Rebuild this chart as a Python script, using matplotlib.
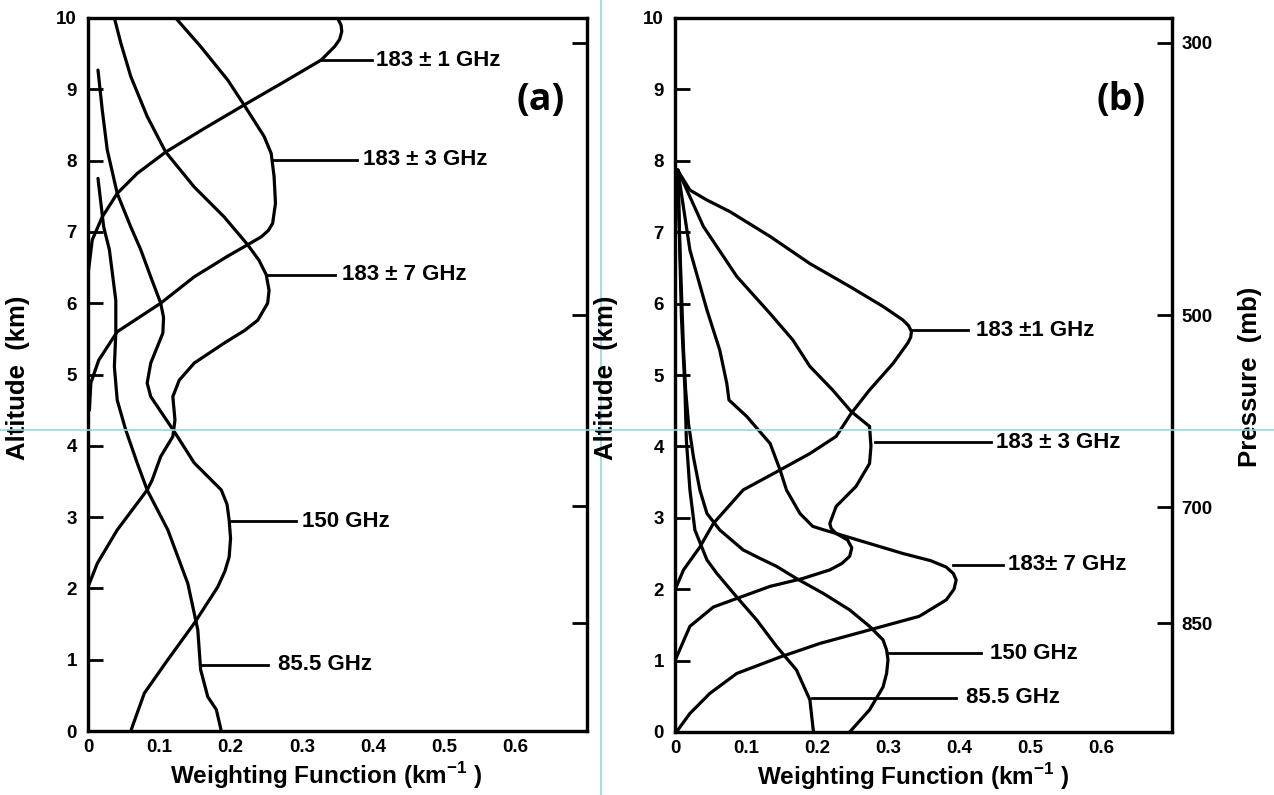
import matplotlib
matplotlib.use("Agg")
import matplotlib.pyplot as plt
from matplotlib.lines import Line2D

# ---------------- data ----------------
x_ticks = [0, 0.1, 0.2, 0.3, 0.4, 0.5, 0.6]
x_tick_labels = ["0", "0.1", "0.2", "0.3", "0.4", "0.5", "0.6"]
y_ticks = [0, 1, 2, 3, 4, 5, 6, 7, 8, 9, 10]
pressure_levels = ["300", "500", "700", "850"]
pressure_alt = [9.65, 5.84, 3.15, 1.52]

# Panel (a)
a_183p1_z = [6.4, 6.89, 7.21, 7.54, 7.82, 8.12, 8.45, 8.78, 9.11, 9.41, 9.6, 9.7, 9.81, 9.9, 10.0, 10.15]
a_183p1_w = [0.0, 0.006, 0.020, 0.041, 0.069, 0.109, 0.163, 0.219, 0.276, 0.327, 0.346, 0.353, 0.356, 0.355, 0.350, 0.335]

a_183p3_z = [4.5, 4.88, 5.2, 5.6, 6.0, 6.37, 6.66, 6.82, 6.93, 7.02, 7.12, 7.4, 7.78, 8.1, 8.34, 8.78, 9.13, 9.6, 10.0]
a_183p3_w = [0.002, 0.004, 0.015, 0.041, 0.102, 0.149, 0.196, 0.224, 0.243, 0.253, 0.259, 0.263, 0.261, 0.257, 0.247, 0.219, 0.196, 0.158, 0.123]

a_183p7_z = [2.02, 2.35, 2.82, 3.38, 3.52, 3.85, 4.13, 4.36, 4.69, 4.92, 5.16, 5.44, 5.62, 5.76, 6.0, 6.18, 6.40, 6.6, 6.82, 7.21, 7.63, 8.12, 8.62, 9.18, 9.65, 10.0]
a_183p7_w = [0.0, 0.013, 0.041, 0.083, 0.090, 0.102, 0.119, 0.122, 0.119, 0.128, 0.149, 0.191, 0.220, 0.238, 0.252, 0.254, 0.250, 0.240, 0.224, 0.191, 0.149, 0.109, 0.083, 0.060, 0.046, 0.037]

a_150_z = [0.0, 0.53, 1.0, 1.51, 2.02, 2.24, 2.44, 2.7, 2.96, 3.18, 3.38, 3.76, 4.2, 4.69, 4.88, 5.16, 5.58, 5.8, 6.0, 6.37, 6.75, 7.07, 7.54, 8.15, 8.71, 9.27]
a_150_w = [0.060, 0.079, 0.112, 0.149, 0.182, 0.192, 0.198, 0.200, 0.198, 0.195, 0.187, 0.149, 0.121, 0.088, 0.083, 0.088, 0.105, 0.106, 0.102, 0.088, 0.074, 0.060, 0.041, 0.027, 0.020, 0.014]

a_855_z = [0.0, 0.3, 0.48, 0.86, 1.42, 2.07, 2.82, 3.38, 3.76, 4.22, 4.64, 5.11, 5.58, 6.04, 6.75, 7.07, 7.75]
a_855_w = [0.187, 0.180, 0.168, 0.158, 0.154, 0.140, 0.112, 0.083, 0.069, 0.053, 0.041, 0.037, 0.039, 0.039, 0.030, 0.022, 0.014]

# Panel (b)
b_183p1_z = [7.87, 7.83, 7.59, 7.45, 7.29, 6.94, 6.56, 6.24, 5.96, 5.77, 5.69, 5.61, 5.53, 5.45, 5.16, 4.79, 4.46, 4.14, 3.90, 3.67, 3.39, 2.92, 2.59, 2.27, 1.99]
b_183p1_w = [0.004, 0.006, 0.021, 0.045, 0.077, 0.134, 0.190, 0.246, 0.293, 0.321, 0.329, 0.333, 0.332, 0.328, 0.307, 0.274, 0.248, 0.227, 0.190, 0.148, 0.096, 0.054, 0.035, 0.012, 0.0]

b_183p3_z = [7.87, 7.08, 6.38, 5.86, 5.49, 5.12, 4.79, 4.49, 4.28, 4.0, 3.76, 3.44, 3.16, 2.92, 2.85, 2.78, 2.69, 2.58, 2.46, 2.36, 2.27, 2.15, 2.04, 1.87, 1.75, 1.48, 1.0]
b_183p3_w = [0.004, 0.040, 0.087, 0.134, 0.166, 0.190, 0.222, 0.248, 0.274, 0.276, 0.274, 0.255, 0.227, 0.218, 0.220, 0.227, 0.243, 0.249, 0.246, 0.235, 0.218, 0.180, 0.134, 0.087, 0.054, 0.021, 0.0]

b_183p7_z = [7.87, 6.75, 5.91, 5.35, 4.88, 4.65, 4.42, 4.04, 3.67, 3.39, 3.06, 2.88, 2.83, 2.78, 2.64, 2.50, 2.40, 2.31, 2.22, 2.13, 2.0, 1.85, 1.62, 1.43, 1.24, 1.05, 0.82, 0.54, 0.26, 0.0]
b_183p7_w = [0.004, 0.021, 0.045, 0.063, 0.073, 0.076, 0.101, 0.134, 0.148, 0.157, 0.176, 0.194, 0.210, 0.227, 0.274, 0.321, 0.360, 0.382, 0.392, 0.396, 0.393, 0.382, 0.344, 0.274, 0.204, 0.148, 0.087, 0.049, 0.021, 0.002]

b_150_z = [0.0, 0.31, 0.63, 0.82, 1.01, 1.15, 1.29, 1.48, 1.71, 1.94, 2.15, 2.32, 2.44, 2.55, 2.83, 3.06, 3.39, 3.85, 4.32, 4.79, 5.35, 6.75, 7.87]
b_150_w = [0.246, 0.274, 0.293, 0.298, 0.300, 0.298, 0.293, 0.274, 0.246, 0.209, 0.171, 0.143, 0.118, 0.096, 0.063, 0.045, 0.035, 0.026, 0.019, 0.015, 0.012, 0.007, 0.004]

b_855_z = [0.0, 0.45, 0.87, 1.2, 1.57, 1.89, 2.22, 2.41, 2.83, 3.39, 4.09, 4.79, 5.82, 7.87]
b_855_w = [0.195, 0.190, 0.171, 0.143, 0.115, 0.087, 0.059, 0.045, 0.028, 0.021, 0.016, 0.014, 0.009, 0.004]

# curve labels: text, altitude of leader, leader start, leader end, text start
a_labels = ["183 \u00b1 1 GHz", "183 \u00b1 3 GHz", "183 \u00b1 7 GHz", "150 GHz", "85.5 GHz"]
a_label_z = [9.41, 8.01, 6.40, 2.94, 0.93]
a_lead_w0 = [0.327, 0.261, 0.250, 0.198, 0.160]
a_lead_w1 = [0.398, 0.378, 0.346, 0.292, 0.252]
a_text_w = [0.404, 0.386, 0.356, 0.300, 0.266]

b_labels = ["183 \u00b11 GHz", "183 \u00b1 3 GHz", "183\u00b1 7 GHz", "150 GHz", "85.5 GHz"]
b_label_z = [5.63, 4.06, 2.34, 1.10, 0.48]
b_lead_w0 = [0.333, 0.282, 0.391, 0.300, 0.193]
b_lead_w1 = [0.413, 0.445, 0.462, 0.431, 0.396]
b_text_w = [0.424, 0.452, 0.469, 0.443, 0.410]

# ---------------- style ----------------
plt.rcParams["font.family"] = ["Liberation Sans", "DejaVu Sans"]
plt.rcParams["font.weight"] = "bold"
plt.rcParams["mathtext.fontset"] = "custom"
plt.rcParams["mathtext.rm"] = "Liberation Sans:bold"
plt.rcParams["mathtext.bf"] = "Liberation Sans:bold"

W, H = 1274, 795
fig = plt.figure(figsize=(W / 100, H / 100), dpi=100)
fig.patch.set_facecolor("white")

LW = 2.3
TICK_FS = 13.5
LABEL_FS = 16


def make_panel(rect, curves, labels, lz, lw0, lw1, tw, show_pressure):
    ax = fig.add_axes(rect)
    for z, w in curves:
        ax.plot(w, z, color="black", lw=LW, solid_joinstyle="round", solid_capstyle="round")
    for t, z, w0, w1, wt in zip(labels, lz, lw0, lw1, tw):
        ax.plot([w0, w1], [z, z], color="black", lw=2.0)
        ax.text(wt, z, t, va="center", ha="left", fontsize=LABEL_FS, fontweight="bold")
    ax.set_xlim(0, 0.7)
    ax.set_ylim(0, 10)
    ax.set_xticks(x_ticks)
    ax.set_xticklabels(x_tick_labels, fontsize=TICK_FS, fontweight="bold")
    ax.set_yticks(y_ticks)
    ax.set_yticklabels([str(v) for v in y_ticks], fontsize=TICK_FS, fontweight="bold")
    ax.tick_params(axis="x", length=0, pad=6)
    ax.tick_params(axis="y", direction="in", length=11, width=2, pad=8)
    for s in ax.spines.values():
        s.set_linewidth(2.3)
    axr = ax.twinx()
    axr.set_ylim(0, 10)
    axr.set_yticks(pressure_alt)
    if show_pressure:
        axr.set_yticklabels(pressure_levels, fontsize=TICK_FS, fontweight="bold")
    else:
        axr.set_yticklabels([])
    axr.tick_params(axis="y", direction="in", length=11, width=2, pad=7)
    for s in axr.spines.values():
        s.set_linewidth(2.3)
    ax.text(0.478, -0.062, "Weighting Function (km$^{-1}$ )", transform=ax.transAxes,
            ha="center", va="center", fontsize=17.5, fontweight="bold")
    return ax


axA = make_panel([88 / W, 1 - 731 / H, (587 - 88) / W, (731 - 18) / H],
                 [(a_183p1_z, a_183p1_w), (a_183p3_z, a_183p3_w), (a_183p7_z, a_183p7_w),
                  (a_150_z, a_150_w), (a_855_z, a_855_w)],
                 a_labels, a_label_z, a_lead_w0, a_lead_w1, a_text_w, False)
axB = make_panel([675 / W, 1 - 732 / H, (1172 - 675) / W, (732 - 18) / H],
                 [(b_183p1_z, b_183p1_w), (b_183p3_z, b_183p3_w), (b_183p7_z, b_183p7_w),
                  (b_150_z, b_150_w), (b_855_z, b_855_w)],
                 b_labels, b_label_z, b_lead_w0, b_lead_w1, b_text_w, True)

# panel tags
fig.text(541 / W, 1 - 100 / H, "(a)", ha="center", va="center", fontsize=27,
         fontweight="bold", family=["Open Sans", "DejaVu Sans"])
fig.text(1121 / W, 1 - 100 / H, "(b)", ha="center", va="center", fontsize=27,
         fontweight="bold", family=["Open Sans", "DejaVu Sans"])

# axis titles
fig.text(18 / W, 1 - 378 / H, "Altitude  (km)", rotation=90, ha="center", va="center",
         fontsize=18.5, fontweight="bold")
fig.text(606 / W, 1 - 378 / H, "Altitude  (km)", rotation=90, ha="center", va="center",
         fontsize=18.5, fontweight="bold")
fig.text(1250 / W, 1 - 377 / H, "Pressure  (mb)", rotation=90, ha="center", va="center",
         fontsize=18.5, fontweight="bold")

# thin cyan guide lines present in the reference screenshot
fig.add_artist(Line2D([601 / W, 601 / W], [0, 1], transform=fig.transFigure,
                      color="#8fd9df", lw=1.2, zorder=0))
fig.add_artist(Line2D([0, 1], [1 - 430 / H, 1 - 430 / H], transform=fig.transFigure,
                      color="#8fd9df", lw=1.2, zorder=5))

fig.savefig("out.png", dpi=100, facecolor="white")
